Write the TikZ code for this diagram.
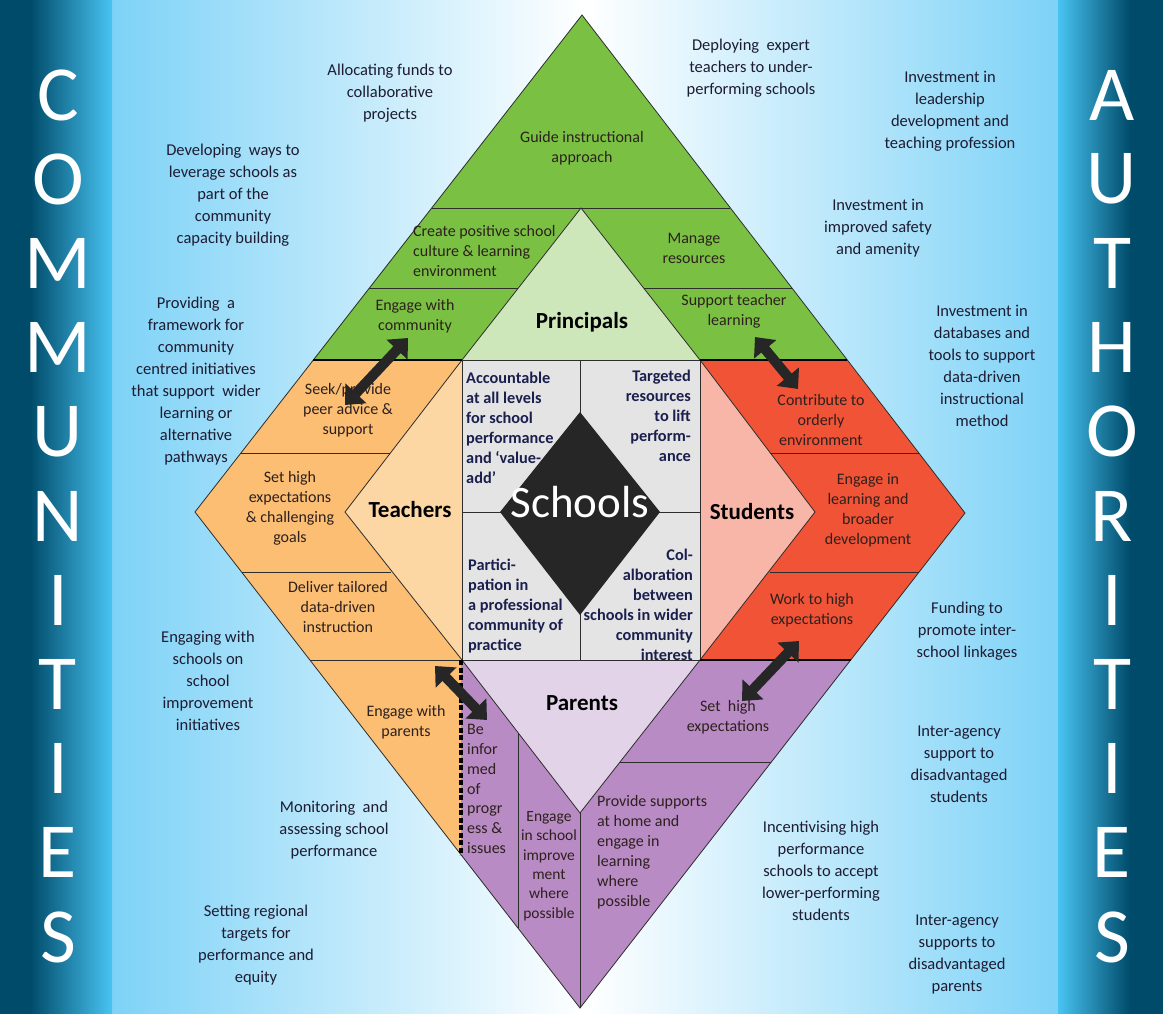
\documentclass[tikz,border=0pt]{standalone}
\usepackage{fontspec}
\setmainfont{Carlito}
\usetikzlibrary{arrows.meta}
\definecolor{bandD}{RGB}{0,75,106}
\definecolor{bandL}{RGB}{72,196,242}
\definecolor{bgb}{RGB}{125,210,247}
\definecolor{grn}{RGB}{122,193,67}
\definecolor{grnL}{RGB}{205,230,186}
\definecolor{org}{RGB}{251,190,115}
\definecolor{orgL}{RGB}{252,214,163}
\definecolor{redd}{RGB}{240,83,54}
\definecolor{redL}{RGB}{248,182,168}
\definecolor{pur}{RGB}{185,139,196}
\definecolor{purL}{RGB}{226,211,233}
\definecolor{gry}{RGB}{228,228,228}
\definecolor{sch}{RGB}{38,38,38}
\definecolor{anncol}{RGB}{30,28,50}
\definecolor{dgcol}{RGB}{45,32,30}
\definecolor{qcol}{RGB}{26,31,77}
\definecolor{edge}{RGB}{45,45,45}
\tikzset{
  ann/.style={font=\fontsize{16.5}{22}\selectfont, align=center, text=anncol, inner sep=0pt},
  dg/.style={font=\fontsize{16}{20}\selectfont, align=center, text=dgcol, inner sep=0pt},
  quad/.style={font=\fontsize{16.3}{20}\selectfont\bfseries, text=qcol, inner sep=0pt},
  lbl/.style={font=\fontsize{23}{26}\selectfont\bfseries, text=black, inner sep=0pt},
  bandltr/.style={font=\fontsize{78}{78}\selectfont, text=white, inner sep=0pt},
  edg/.style={draw=edge, line width=0.8pt},
  dashy/.style={draw=black, line width=2.6pt, dash pattern=on 3.5pt off 2.5pt},
  dashbase/.style={draw=black, line width=1.1pt},
  dblarrow/.style={draw=sch, line width=10pt, {Triangle[width=28pt,length=16pt]}-{Triangle[width=28pt,length=16pt]}}
}
\begin{document}
\begin{tikzpicture}[x=1pt,y=-1pt]
\useasboundingbox (0,0) rectangle (1163,1014);
% background
\fill[white] (0,0) rectangle (1163,1014);
\shade[left color=bgb, right color=white] (110,0) rectangle (585,1014);
\shade[left color=white, right color=bgb] (585,0) rectangle (1060,1014);
\fill[bandD] (0,0) rectangle (30,1014);
\shade[left color=bandD, right color=bandL] (30,0) rectangle (112,1014);
\shade[left color=bandL, right color=bandD] (1058,0) rectangle (1130,1014);
\fill[bandD] (1130,0) rectangle (1163,1014);
\foreach \ch [count=\i] in {C,O,M,M,U,N,I,T,I,E,S}
  \node[bandltr] (cm\i) at (58,{95+84.2*(\i-1)}) {\ch};
\foreach \ch [count=\i] in {A,U,T,H,O,R,I,T,I,E,S}
  \node[bandltr] (au\i) at (1112,{95+84.2*(\i-1)}) {\ch};

% fills
\fill[grn] (582,15) -- (313,360) -- (847,360) -- cycle;
\fill[grnL] (581,208) -- (462,360) -- (700,360) -- cycle;
\fill[org] (313,360) -- (195,512) -- (461,855) -- (462,360) -- cycle;
\fill[orgL] (462,360) -- (345,512) -- (462,660) -- cycle;
\fill[redd] (700,360) -- (847,360) -- (965,513) -- (851,660) -- (700,660) -- cycle;
\fill[redL] (700,360) -- (815,512) -- (700,660) -- cycle;
\fill[pur] (461,660) -- (851,660) -- (580,1008) -- (461,855) -- cycle;
\fill[purL] (462,660) -- (700,660) -- (580,813) -- cycle;
\fill[gry] (462,360) rectangle (700,660);

% edges
\draw[edg] (582,15) -- (195,512) -- (580,1008) -- (965,513) -- cycle;
\draw[edg] (432,208) -- (730,208);
\draw[edg] (462,360) -- (581,208) -- (700,360);
\draw[edg] (369,288) -- (518,288);
\draw[edg] (644,288) -- (792,288);
\draw[edg] (462,360) -- (345,512) -- (462,660);
\draw[edg] (241,453) -- (390,453);
\draw[edg] (242,572) -- (391,572);
\draw[edg] (310,660) -- (461,660);
\draw[edg] (700,360) -- (815,512) -- (700,660);
\draw[edg] (770,453) -- (919,453);
\draw[edg] (770,572) -- (919,572);
\draw[edg] (462,660) -- (580,813) -- (700,660);
\draw[edg] (580,813) -- (580,1008);
\draw[edg] (518,733) -- (518,928);
\draw[edg] (620,762) -- (771,762);
\draw[draw=edge, line width=1pt] (462,360) rectangle (700,660);
\draw[draw=edge, line width=1pt] (580,360) -- (580,660);
\draw[draw=edge, line width=1pt] (462,512) -- (700,512);
\fill[sch] (580,412) -- (660,512) -- (580,615) -- (500,512) -- cycle;

% dashed borders
\draw[dashbase] (313,360) -- (462,360);
\draw[dashy] (313,360) -- (462,360);
\draw[dashbase] (700,360) -- (847,360);
\draw[dashy] (700,360) -- (847,360);
\draw[dashbase] (700,660) -- (851,660);
\draw[dashy] (700,660) -- (851,660);
\draw[draw=black, line width=3.5pt, dash pattern=on 5pt off 2.5pt] (461,660) -- (461,855);

% arrows
\coordinate (ar1a) at (345,405); \coordinate (ar1b) at (408,338);
\coordinate (ar2a) at (755,337); \coordinate (ar2b) at (798,389);
\coordinate (ar3a) at (742,701); \coordinate (ar3b) at (799,641);
\coordinate (ar4a) at (435,666); \coordinate (ar4b) at (487,720);
\draw[dblarrow] (ar1a) -- (ar1b);
\draw[dblarrow] (ar2a) -- (ar2b);
\draw[dblarrow] (ar3a) -- (ar3b);
\draw[dblarrow] (ar4a) -- (ar4b);

% annotations left
\node[ann] (a1) at (390,93) {Allocating funds to\\collaborative\\projects};
\node[ann] (a2) at (233,195) {Developing\ \ ways to\\leverage schools as\\part of the\\community\\capacity building};
\node[ann] (a3) at (196,381) {Providing\ \ a\\framework for\\community\\centred initiatives\\that support\ \ wider\\learning or\\alternative\\pathways};
\node[ann] (a4) at (208,681) {Engaging with\\schools on\\school\\improvement\\initiatives};
\node[ann] (a5) at (334,830) {Monitoring\ \ and\\assessing school\\performance};
\node[ann] (a6) at (256,945) {Setting regional\\targets for\\performance and\\equity};
% annotations right
\node[ann] (b1) at (751,68) {Deploying\ \ expert\\teachers to under-\\performing schools};
\node[ann] (b2) at (950,111) {Investment in\\leadership\\development and\\teaching profession};
\node[ann] (b3) at (878,228) {Investment in\\improved safety\\and amenity};
\node[ann] (b4) at (982,366) {Investment in\\databases and\\tools to support\\data-driven\\instructional\\method};
\node[ann] (b5) at (967,631) {Funding to\\promote inter-\\school linkages};
\node[ann] (b6) at (959,764) {Inter-agency\\support to\\disadvantaged\\students};
\node[ann] (b7) at (821,871) {Incentivising high\\performance\\schools to accept\\lower-performing\\students};
\node[ann] (b8) at (957,955) {Inter-agency\\supports to\\disadvantaged\\parents};

% green
\node[dg] (g1) at (582,148) {Guide instructional\\approach};
\node[dg, align=left, anchor=west] (g2) at (413,251) {Create positive school\\culture \& learning\\environment};
\node[dg] (g3) at (694,248) {Manage\\resources};
\node[dg] (g4) at (415,316) {Engage with\\community};
\node[dg] (g5) at (734,311) {Support teacher\\learning};
\node[lbl] (prin) at (582,322) {Principals};
% orange
\node[dg] (o1) at (348,410) {Seek/provide\\peer advice \&\\support};
\node[dg] (o2) at (290,508) {Set high\\expectations\\\& challenging\\goals};
\node[dg] (o3) at (338,607) {Deliver tailored\\data-driven\\instruction};
\node[dg] (o4) at (406,722) {Engage with\\parents};
\node[lbl] (teach) at (410,510) {Teachers};
% red
\node[dg] (r1) at (821,420) {Contribute to\\orderly\\environment};
\node[dg] (r2) at (868,510) {Engage in\\learning and\\broader\\development};
\node[dg] (r3) at (812,610) {Work to high\\expectations};
\node[lbl] (stud) at (752,512) {Students};
% purple
\node[dg] (p1) at (728,717) {Set\ \ high\\expectations};
\node[dg, font=\fontsize{16}{19.7}\selectfont, align=left, anchor=west] (p2) at (467,789) {Be\\infor\\med\\of\\progr\\ess \&\\issues};
\node[dg, font=\fontsize{15.5}{19.4}\selectfont] (p3) at (549,866) {Engage\\in school\\improve\\ment\\where\\possible};
\node[dg, align=left, anchor=west] (p4) at (597,852) {Provide supports\\at home and\\engage in\\learning\\where\\possible};
\node[lbl] (par) at (582,703) {Parents};
% quadrants
\node[quad, align=left, anchor=west] (q1) at (466,428) {Accountable\\at all levels\\for school\\performance\\and ‘value-\\add’};
\node[quad, align=right, anchor=east] (q2) at (691,416) {Targeted\\resources\\to lift\\perform-\\ance};
\node[quad, align=left, anchor=west] (q3) at (468,606) {Partici-\\pation in\\a professional\\community of\\practice};
\node[quad, align=right, anchor=east] (q4) at (693,605) {Col-\\alboration\\between\\schools in wider\\community\\interest};
\node[font=\fontsize{45}{45}\selectfont, text=white, inner sep=0pt] (schools) at (580,502) {Schools};
\end{tikzpicture}
\end{document}
